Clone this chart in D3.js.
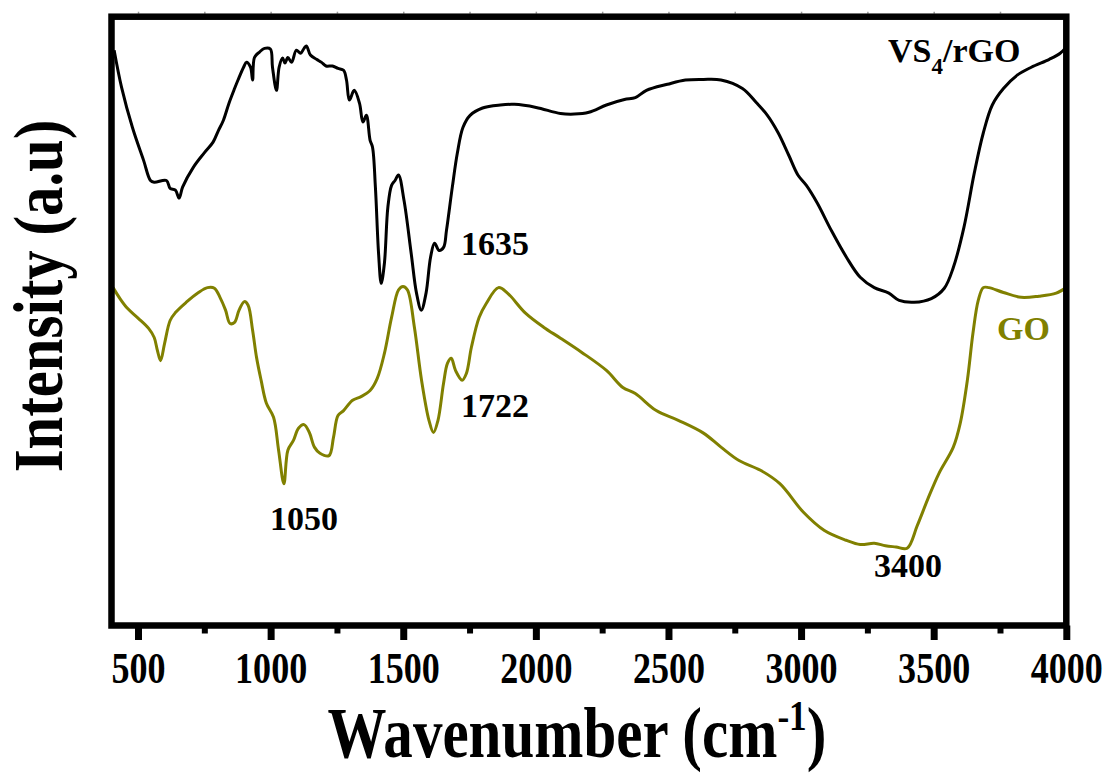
<!DOCTYPE html>
<html>
<head>
<meta charset="utf-8">
<script src="https://cdn.jsdelivr.net/npm/d3@7"></script>
<style>
  html, body { margin: 0; padding: 0; background: #fff; }
  svg { display: block; }
  text { font-family: "Liberation Serif", "Times New Roman", Times, serif; font-weight: bold; }
</style>
</head>
<body>
<svg id="chart" width="1117" height="779"></svg>
<script>
// FTIR spectra: VS4/rGO composite and graphene oxide (GO)
const rgoWavenumber = [
  410,438,479,521,547,561,607,621,641,655,
  668,709,749,783,803,822,843,864,877,898,
  909,924,932,939,958,977,999,1007,1022,1032,
  1045,1054,1065,1079,1097,1113,1126,1135,1150,1173,
  1192,1209,1233,1254,1275,1286,1297,1315,1335,1348,
  1361,1375,1384,1395,1407,1417,1429,1442,1456,1469,
  1482,1503,1530,1550,1568,1586,1603,1618,1635,1652,
  1663,1685,1704,1725,1752,1799,1866,1919,2001,2093,
  2145,2200,2266,2334,2375,2417,2496,2564,2632,2698,
  2779,2831,2873,2914,2954,2988,3020,3061,3114,3171,
  3223,3276,3331,3370,3426,3491,3540,3574,3614,3653,
  3687,3721,3763,3815,3868,3936,3977,4000
];
const rgoIntensity = [
  94.5,88.4,81.8,76.4,73.1,72.8,73.1,71.8,71.5,70.2,
  72.0,75.3,77.6,79.4,81.3,83.0,85.8,88.2,89.6,91.7,
  92.5,91.7,89.6,93.3,94.2,94.8,94.7,91.7,87.9,91.7,
  93.2,92.4,93.3,92.5,94.5,94.0,94.8,95.2,93.7,93.0,
  92.5,91.9,91.9,91.5,91.2,89.6,86.3,87.9,85.8,82.7,
  83.8,79.7,78.6,72.0,61.1,56.2,59.5,68.7,72.3,73.1,
  74.0,69.8,61.1,54.6,51.8,54.6,60.5,62.8,61.6,62.1,
  64.9,72.0,77.6,81.8,83.8,85.0,85.5,85.6,85.1,84.1,
  84.0,84.3,85.5,86.4,86.7,87.9,88.9,89.6,89.7,89.6,
  88.2,85.9,83.8,80.9,77.2,74.0,72.3,69.4,64.9,60.5,
  57.2,55.5,54.6,53.4,53.1,53.7,55.4,58.8,65.4,74.3,
  80.9,85.5,88.2,90.4,91.7,93.0,94.0,95.0
];

const goWavenumber = [
  406,432,460,500,540,561,573,585,600,621,
  641,682,728,762,788,809,830,847,864,881,
  901,915,932,947,964,984,1011,1030,1050,1065,
  1086,1105,1126,1146,1165,1186,1220,1237,1254,1275,
  1309,1341,1375,1402,1429,1456,1482,1499,1516,1542,
  1569,1597,1614,1631,1652,1667,1681,1697,1722,1738,
  1757,1786,1813,1859,1893,1961,2029,2093,2172,2266,
  2328,2375,2454,2537,2632,2698,2766,2847,2920,3009,
  3088,3170,3223,3276,3318,3358,3400,3438,3480,3520,
  3574,3600,3627,3648,3668,3687,3708,3763,3830,3897,
  3962,4000
];
const goIntensity = [
  55.5,53.7,52.1,50.5,48.8,47.3,45.2,43.5,46.3,50.1,
  51.4,53.1,54.7,55.5,55.4,53.9,51.8,49.6,49.8,51.8,
  53.2,52.6,48.5,44.0,40.3,36.5,34.2,28.8,23.3,28.8,
  30.4,32.4,33.0,31.7,29.3,28.3,27.9,30.9,34.5,35.3,
  37.0,37.6,38.6,40.6,44.7,50.6,55.1,55.7,55.1,49.0,
  40.3,33.7,31.7,33.7,39.8,43.1,43.9,41.9,40.3,41.4,
  45.7,50.6,52.9,55.5,54.6,51.3,49.0,47.2,44.9,41.9,
  39.1,38.1,35.3,33.7,31.6,29.3,27.1,25.5,23.3,18.6,
  15.6,14.0,13.3,13.5,13.1,12.9,12.7,16.4,21.0,25.0,
  29.3,33.2,40.3,48.0,53.4,55.5,55.5,54.7,53.9,54.1,
  54.6,55.5
];

const majorTicks = [500,1000,1500,2000,2500,3000,3500,4000];
const minorTicks = [750,1250,1750,2250,2750,3250,3750];
const topTicks = [500,750,1000,1250,1500,1750,2000,2250,2500,2750,3000,3250,3500,3750];

const seriesNames = ["VS4/rGO", "GO"];
const peakLabels = ["1635", "1722", "1050", "3400"];

(function draw() {
  const svg = d3.select("#chart");
  const pl = 111.5, pr = 1066.3, pt = 16.7, pb = 625.5;

  const x = d3.scaleLinear().domain([400, 4000]).range([pl, pr]);
  const y = d3.scaleLinear().domain([0, 100]).range([pb, pt]);

  const olive = "#808000";
  const squeeze = 0.82;

  svg.append("defs").append("clipPath").attr("id", "plotClip")
    .append("rect").attr("x", pl).attr("y", pt)
    .attr("width", pr - pl).attr("height", pb - pt);

  const line = d3.line()
    .x(d => x(d[0]))
    .y(d => y(d[1]))
    .curve(d3.curveCatmullRom.alpha(0.5));

  const rgoData = rgoWavenumber.map((w, i) => [w, rgoIntensity[i]]);
  const goData = goWavenumber.map((w, i) => [w, goIntensity[i]]);

  const plot = svg.append("g").attr("clip-path", "url(#plotClip)");
  plot.append("path").datum(goData)
    .attr("d", line).attr("fill", "none")
    .attr("stroke", olive).attr("stroke-width", 3).attr("stroke-linejoin", "round");
  plot.append("path").datum(rgoData)
    .attr("d", line).attr("fill", "none")
    .attr("stroke", "#000").attr("stroke-width", 3).attr("stroke-linejoin", "round");

  // small marks along the top edge
  const topAxis = svg.append("g").attr("transform", `translate(0,${pt - 3})`)
    .call(d3.axisTop(x).tickValues(topTicks).tickSize(2).tickFormat(""));
  topAxis.select(".domain").remove();
  topAxis.selectAll("line").attr("stroke", "#999").attr("stroke-width", 1.5);

  // bottom axis: minor then major ticks
  const minorAxis = svg.append("g").attr("transform", `translate(0,${pb})`)
    .call(d3.axisBottom(x).tickValues(minorTicks).tickSize(8).tickFormat(""));
  minorAxis.select(".domain").remove();
  minorAxis.selectAll("line").attr("stroke", "#000").attr("stroke-width", 6);

  const majorAxis = svg.append("g").attr("transform", `translate(0,${pb})`)
    .call(d3.axisBottom(x).tickValues(majorTicks).tickSize(14.5).tickFormat(d3.format("d")));
  majorAxis.select(".domain").remove();
  majorAxis.selectAll("line").attr("stroke", "#000").attr("stroke-width", 7);
  majorAxis.selectAll("text")
    .attr("y", 0).attr("dy", null)
    .attr("transform", `translate(0,57) scale(${squeeze},1)`)
    .attr("fill", "#000")
    .style("font-size", "44px")
    .style("font-family", "'Liberation Serif', 'Times New Roman', serif")
    .style("font-weight", "bold");

  // frame
  svg.append("rect")
    .attr("x", pl).attr("y", pt)
    .attr("width", pr - pl).attr("height", pb - pt)
    .attr("fill", "none").attr("stroke", "#000").attr("stroke-width", 6.5);

  // axis titles
  const xTitle = svg.append("text")
    .attr("transform", `translate(577,757) scale(${squeeze},1)`)
    .attr("text-anchor", "middle")
    .style("font-size", "72px");
  xTitle.append("tspan").text("Wavenumber (cm");
  xTitle.append("tspan").attr("dy", -27).style("font-size", "43px").text("-1");
  xTitle.append("tspan").attr("dy", 27).text(")");

  svg.append("text")
    .attr("transform", "translate(62,296) rotate(-90) scale(0.84,1)")
    .attr("text-anchor", "middle")
    .style("font-size", "70px")
    .text("Intensity (a.u)");

  // series labels
  const nameLabel = svg.append("text")
    .attr("x", 888).attr("y", 62)
    .style("font-size", "34px").attr("fill", "#000");
  nameLabel.append("tspan").text("VS");
  nameLabel.append("tspan").attr("dy", 12).style("font-size", "23px").text("4");
  nameLabel.append("tspan").attr("dy", -12).text("/rGO");

  svg.append("text")
    .attr("x", 997).attr("y", 340)
    .style("font-size", "34px").attr("fill", olive)
    .text(seriesNames[1]);

  // peak annotations
  const peakPos = [[461, 255], [461, 417], [270, 530], [874, 577]];
  svg.selectAll(".peak").data(peakLabels).enter().append("text")
    .attr("class", "peak")
    .attr("x", (d, i) => peakPos[i][0])
    .attr("y", (d, i) => peakPos[i][1])
    .style("font-size", "34px").attr("fill", "#000")
    .text(d => d);
})();
</script>
</body>
</html>
